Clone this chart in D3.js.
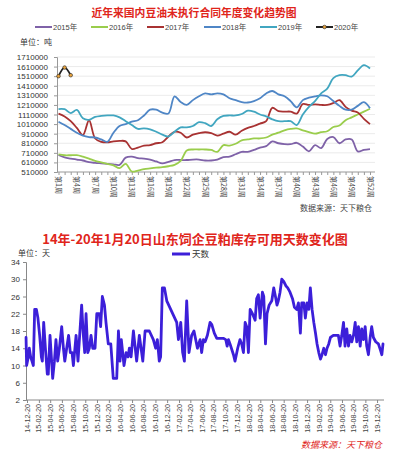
<!DOCTYPE html>
<html><head><meta charset="utf-8">
<script src="https://cdn.jsdelivr.net/npm/d3@7"></script>
<style>
body{margin:0;background:#fff;}
svg{display:block;font-family:"Liberation Sans","Noto Sans CJK SC",sans-serif;}
</style></head><body>
<svg id="c" width="395" height="454"></svg>
<script>
// ---------- Chart 1 data ----------
const title1 = "近年来国内豆油未执行合同年度变化趋势图";
const weeks = d3.range(1, 53);
const yearNames = ["2015年","2016年","2017年","2018年","2019年","2020年"];
const yearColors = ["#7f62a8","#9acd4c","#a83232","#4f86c6","#41a6c0","#222222"];
const s2015 = [687000,662000,650000,640000,630000,612000,605000,600000,595000,590000,585000,660000,670000,655000,650000,640000,620000,600000,615000,635000,635000,635000,640000,640000,630000,630000,640000,665000,670000,695000,720000,720000,740000,765000,780000,830000,810000,800000,800000,815000,775000,725000,790000,760000,855000,875000,810000,850000,850000,725000,740000,748000];
const s2016 = [694000,685000,685000,685000,670000,650000,625000,610000,595000,580000,550000,595000,515000,525000,540000,548000,555000,560000,570000,585000,625000,735000,745000,745000,745000,740000,720000,790000,785000,805000,840000,850000,860000,860000,870000,900000,920000,945000,960000,965000,945000,925000,910000,925000,935000,980000,995000,1050000,1080000,1110000,1140000,1170000];
const s2017 = [1120000,1090000,1040000,970000,895000,1050000,860000,825000,820000,830000,835000,830000,750000,765000,785000,790000,810000,820000,880000,930000,920000,870000,900000,915000,925000,915000,890000,910000,930000,900000,940000,970000,990000,1015000,1040000,1180000,1145000,1140000,1140000,1120000,1220000,1210000,1215000,1210000,1210000,1230000,1260000,1190000,1150000,1130000,1065000,1010000];
const s2018 = [1035000,1000000,960000,920000,890000,875000,870000,850000,825000,920000,990000,1010000,1035000,1050000,1100000,1160000,1160000,1130000,1120000,1300000,1240000,1210000,1260000,1300000,1330000,1320000,1330000,1320000,1280000,1260000,1240000,1235000,1250000,1280000,1330000,1355000,1320000,1300000,1250000,1185000,1260000,1285000,1300000,1310000,1300000,1250000,1200000,1160000,1160000,1200000,1240000,1175000];
const s2019 = [1167000,1165000,1125000,1157000,1070000,1055000,1085000,1095000,1100000,1100000,1080000,1040000,1000000,960000,965000,955000,930000,900000,880000,930000,975000,975000,990000,1030000,1020000,990000,1060000,1095000,1100000,1100000,1115000,1150000,1140000,1110000,1090000,1060000,1040000,1040000,1040000,1000000,1110000,1190000,1250000,1330000,1380000,1490000,1520000,1520000,1505000,1570000,1625000,1590000];
const s2020 = [1510000,1600000,1520000];
const yTicks1 = [510000,610000,710000,810000,910000,1010000,1110000,1210000,1310000,1410000,1510000,1610000,1710000];

// ---------- Chart 2 data ----------
const title2 = "14年-20年1月20日山东饲企豆粕库存可用天数变化图";
const xLabels2 = ["14-12-20","15-02-20","15-04-20","15-06-20","15-08-20","15-10-20","15-12-20","16-02-20","16-04-20","16-06-20","16-08-20","16-10-20","16-12-20","17-02-20","17-04-20","17-06-20","17-08-20","17-10-20","17-12-20","18-02-20","18-04-20","18-06-20","18-08-20","18-10-20","18-12-20","19-02-20","19-04-20","19-06-20","19-08-20","19-10-20","19-12-20"];
const yTicks2 = [2,6,10,14,18,22,26,30,34];
const dates = ["2014-12-15","2014-12-18","2014-12-27","2015-01-01","2015-01-08","2015-01-15","2015-01-22","2015-01-29","2015-02-07","2015-02-15","2015-02-24","2015-03-05","2015-03-10","2015-03-17","2015-03-26","2015-04-05","2015-04-10","2015-04-19","2015-04-26","2015-05-03","2015-05-12","2015-05-20","2015-05-29","2015-06-07","2015-06-19","2015-06-28","2015-07-05","2015-07-15","2015-07-25","2015-08-03","2015-08-12","2015-08-19","2015-09-02","2015-09-12","2015-10-01","2015-10-10","2015-10-17","2015-10-24","2015-11-02","2015-11-10","2015-11-19","2015-11-28","2015-12-10","2015-12-19","2016-01-01","2016-01-08","2016-01-17","2016-01-28","2016-02-05","2016-02-17","2016-03-01","2016-03-14","2016-04-01","2016-04-10","2016-04-18","2016-04-25","2016-05-09","2016-05-20","2016-05-30","2016-06-06","2016-06-15","2016-06-27","2016-07-14","2016-07-28","2016-08-15","2016-08-27","2016-09-18","2016-10-09","2016-10-21","2016-10-30","2016-11-09","2016-11-16","2016-11-25","2016-12-06","2016-12-18","2017-02-08","2017-02-17","2017-03-01","2017-03-11","2017-03-20","2017-04-01","2017-04-13","2017-04-27","2017-05-09","2017-05-27","2017-06-10","2017-06-18","2017-06-27","2017-07-06","2017-07-18","2017-08-01","2017-08-10","2017-08-23","2017-09-05","2017-10-09","2017-10-22","2017-10-29","2017-11-05","2017-11-13","2017-12-01","2017-12-09","2017-12-23","2018-01-04","2018-01-13","2018-01-22","2018-01-31","2018-02-08","2018-02-17","2018-02-26","2018-03-10","2018-03-24","2018-04-01","2018-04-10","2018-04-19","2018-05-01","2018-05-08","2018-05-17","2018-05-25","2018-06-05","2018-06-19","2018-06-29","2018-07-08","2018-07-16","2018-07-23","2018-08-01","2018-08-10","2018-08-20","2018-08-31","2018-09-10","2018-09-22","2018-10-05","2018-10-15","2018-10-27","2018-11-05","2018-11-15","2018-11-22","2018-12-03","2018-12-11","2018-12-20","2018-12-29","2019-01-06","2019-01-15","2019-01-24","2019-02-02","2019-02-10","2019-02-19","2019-02-28","2019-03-08","2019-03-17","2019-03-26","2019-04-03","2019-04-12","2019-04-21","2019-05-06","2019-06-01","2019-06-10","2019-06-19","2019-06-28","2019-07-06","2019-07-15","2019-07-24","2019-08-01","2019-08-10","2019-08-19","2019-08-28","2019-09-05","2019-09-14","2019-09-23","2019-10-01","2019-10-10","2019-10-19","2019-10-27","2019-11-05","2019-11-14","2019-11-22","2019-12-01","2019-12-13","2019-12-27","2020-01-07","2020-01-14","2020-01-20"];
const days = [16.5,10,12,14,12,11,10,23,23,21,17,12,11,20,14,8,8,17,12,7,11,16,11,14,19,14,11,14,17,13,13,10,17,11,24,17,13,22,13,14,17,14,14,22,22,19,26,24,20,15,15,7,7,18,11,16,10,13,12,14,12,18,11,17,11,18,18,16,14,16,11,12,28,28,25,20,16,20,13,11,25,13,17,18,14,16,13,16,15.5,17,20,19.5,17.5,16.3,16.3,16,14.5,16,15,12.5,11,14,16,15,13,20,19,13,23,22,20.5,25.5,26.4,21,27,26,15,22,24,25,28,26,24,25,27,30,29.5,28.5,28,27,25.5,23.5,23,24.5,17.5,24.5,24.5,21,24.5,23,28,23,20,17.5,15,13,11.5,12.5,14,12.5,14,15,16.5,17,17,14.5,17,20,14.5,18.5,14.5,17,15.5,17,20,15.5,19,14.5,18.5,16,19,14.5,12.5,16.5,19,16.5,15.5,15,13.5,12.5,15];

const svg = d3.select("#c");
const cjk = '"Noto Sans CJK SC",sans-serif';

// ================= Chart 1 =================
const red = "#e0251b";
svg.append("text").attr("x",194).attr("y",16.5).attr("text-anchor","middle")
  .attr("font-family",cjk).attr("font-weight","bold").attr("font-size",10.8).attr("fill",red).text(title1);

// legend
const legX = [35,91,147,204,260,316];
const leg = svg.append("g").attr("font-size",7.5).attr("fill","#444");
yearNames.forEach((n,i)=>{
  const g = leg.append("g");
  g.append("line").attr("x1",legX[i]).attr("x2",legX[i]+17).attr("y1",27).attr("y2",27)
    .attr("stroke",yearColors[i]).attr("stroke-width",2);
  if(i===5) g.append("circle").attr("cx",legX[i]+8.5).attr("cy",27).attr("r",1.8).attr("fill","#e8a33d").attr("stroke","#222").attr("stroke-width",0.6);
  g.append("text").attr("x",legX[i]+18).attr("y",29.7).attr("font-family",'"Liberation Sans","Noto Sans CJK SC"').text(n);
});
svg.append("text").attr("x",20).attr("y",45).attr("font-family",cjk).attr("font-size",8).attr("fill","#333").text("单位：吨");

const y1 = d3.scaleLinear().domain([510000,1710000]).range([172,57]);
const x1 = d3.scalePoint().domain(weeks).range([58.5,370]);

// grid
svg.append("g").selectAll("line").data(yTicks1.slice(1)).join("line")
  .attr("x1",57).attr("x2",375).attr("y1",d=>y1(d)).attr("y2",d=>y1(d))
  .attr("stroke","#e6e6e6").attr("stroke-width",0.8);

const ax1 = svg.append("g").attr("transform","translate(57,0)")
  .call(d3.axisLeft(y1).tickValues(yTicks1).tickSize(3).tickPadding(6).tickFormat(d=>String(d)));
ax1.selectAll("text").attr("font-size",8).attr("fill","#333").attr("font-family","Liberation Sans");
ax1.selectAll("line,path").attr("stroke","#999");

const bx1 = svg.append("g").attr("transform","translate(0,172)")
  .call(d3.axisBottom(x1).tickSize(3).tickFormat(""));
bx1.select("path").attr("d","M57,0H375").attr("stroke","#999");
bx1.selectAll("line").attr("stroke","#999");
svg.append("g").selectAll("text").data(weeks.filter(w=>(w-1)%3===0)).join("text")
  .attr("transform",w=>`translate(${x1(w)},176) rotate(90)`)
  .attr("dy","0.35em").attr("font-family",cjk).attr("font-size",7).attr("fill","#444")
  .text(w=>"第"+w+"周");
svg.append("text").attr("x",372).attr("y",211).attr("text-anchor","end").attr("font-family",cjk)
  .attr("font-size",8).attr("fill","#444").text("数据来源：天下粮仓");

const line1 = d3.line().x((d,i)=>x1(weeks[i])).y(d=>y1(d)).curve(d3.curveCatmullRom.alpha(0.5));
[s2015,s2016,s2017,s2018,s2019].forEach((s,i)=>{
  svg.append("path").attr("d",line1(s)).attr("fill","none").attr("stroke",yearColors[i]).attr("stroke-width",1.8);
});
svg.append("path").attr("d",line1(s2020)).attr("fill","none").attr("stroke",yearColors[5]).attr("stroke-width",1.8);
svg.append("g").selectAll("circle").data(s2020).join("circle")
  .attr("cx",(d,i)=>x1(weeks[i])).attr("cy",d=>y1(d)).attr("r",1.8)
  .attr("fill","#e8a33d").attr("stroke","#222").attr("stroke-width",0.6);

// ================= Chart 2 =================
svg.append("text").attr("x",195).attr("y",244).attr("text-anchor","middle")
  .attr("font-family",cjk).attr("font-weight","bold").attr("font-size",13).attr("fill",red).text(title2);
svg.append("text").attr("x",18).attr("y",256).attr("font-family",cjk).attr("font-size",8).attr("fill","#333").text("单位：天");
const lineColor2 = "#3c1fd9";
svg.append("line").attr("x1",172).attr("x2",190).attr("y1",254).attr("y2",254).attr("stroke",lineColor2).attr("stroke-width",3);
svg.append("text").attr("x",192).attr("y",257).attr("font-family",cjk).attr("font-size",8.5).attr("fill","#333").text("天数");

const parse = d3.timeParse("%Y-%m-%d");
const parseL = d3.timeParse("%y-%m-%d");
const x2 = d3.scaleTime().domain([parse("2014-12-20"),parse("2020-01-20")]).range([27,383]);
const y2 = d3.scaleLinear().domain([2,34]).range([400,262]);

const ax2 = svg.append("g").attr("transform","translate(26,0)")
  .call(d3.axisLeft(y2).tickValues(yTicks2).tickSize(3).tickPadding(3));
ax2.selectAll("text").attr("font-size",8).attr("fill","#333").attr("font-family","Liberation Sans");
ax2.selectAll("line,path").attr("stroke","#888");

const tickDates = xLabels2.map(s=>parseL(s));
const bx2 = svg.append("g").attr("transform","translate(0,400)")
  .call(d3.axisBottom(x2).tickValues(tickDates).tickSize(3).tickFormat(""));
bx2.select("path").attr("d","M26,0H384").attr("stroke","#888");
bx2.selectAll("line").attr("stroke","#888");
svg.append("g").selectAll("text").data(xLabels2).join("text")
  .attr("transform",s=>`translate(${x2(parseL(s))},404) rotate(-90)`)
  .attr("text-anchor","end").attr("dy","0.35em").attr("font-size",7.2).attr("fill","#444")
  .attr("font-family","Liberation Sans").text(s=>s);

const line2 = d3.line().x((d,i)=>x2(parse(dates[i]))).y(d=>y2(d));
svg.append("path").attr("d",line2(days)).attr("fill","none").attr("stroke",lineColor2)
  .attr("stroke-width",2.8).attr("stroke-linejoin","round").attr("stroke-linecap","round");

svg.append("text").attr("x",382).attr("y",448).attr("text-anchor","end").attr("font-family",cjk)
  .attr("font-size",9).attr("font-style","italic").attr("fill","#e0251b").text("数据来源：天下粮仓");
</script>
</body></html>
